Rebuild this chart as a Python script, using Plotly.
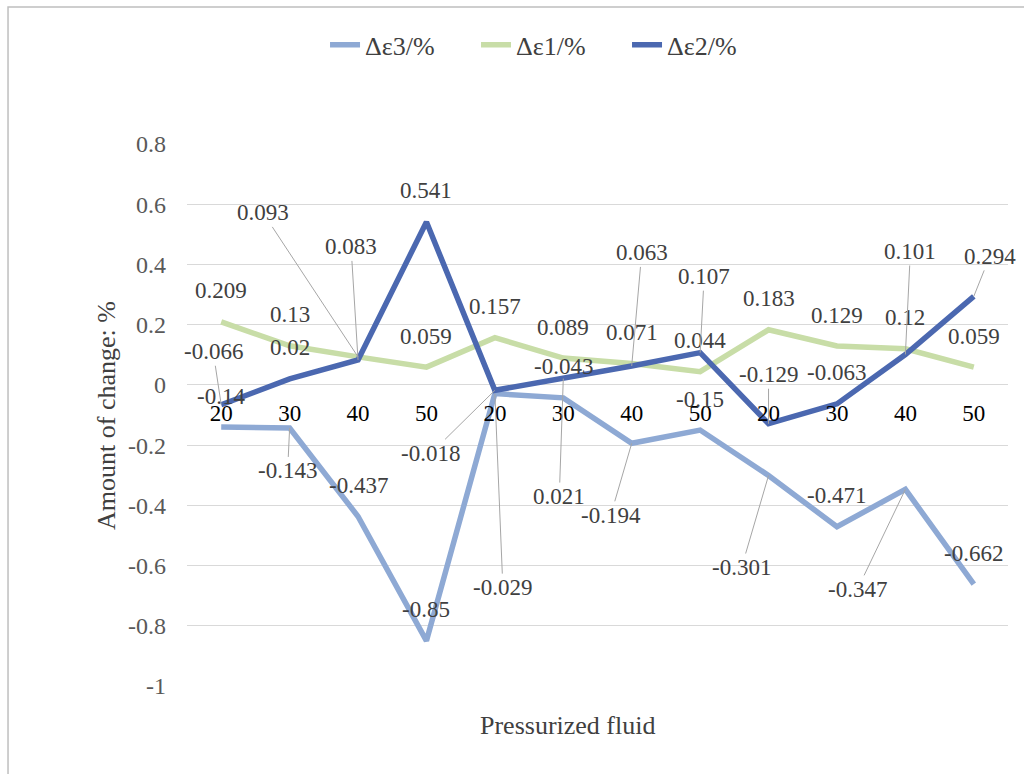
import plotly.graph_objects as go

# Categories along the horizontal axis (three groups of pressures)
categories = ["20", "30", "40", "50", "20", "30", "40", "50", "20", "30", "40", "50"]

# Series values (%)
d_eps3 = [-0.14, -0.143, -0.437, -0.85, -0.029, -0.043, -0.194, -0.15, -0.301, -0.471, -0.347, -0.662]
d_eps1 = [0.209, 0.13, 0.093, 0.059, 0.157, 0.089, 0.071, 0.044, 0.183, 0.129, 0.12, 0.059]
d_eps2 = [-0.066, 0.02, 0.083, 0.541, -0.018, 0.021, 0.063, 0.107, -0.129, -0.063, 0.101, 0.294]

y_ticks = [0.8, 0.6, 0.4, 0.2, 0, -0.2, -0.4, -0.6, -0.8, -1]
y_tick_text = ["0.8", "0.6", "0.4", "0.2", "0", "-0.2", "-0.4", "-0.6", "-0.8", "-1"]

# Label placement: default sits just above the point; the entries below
# are moved labels joined to their point with a leader line (pixel offsets).
DEFAULT_OFFSET = (0, -31)
leader_offsets = {
    "Δε3/%": {1: (-2, 43), 4: (8, 194), 6: (-21, 72), 8: (-27, 92), 10: (-48, 100)},
    "Δε1/%": {2: (-95, -144)},
    "Δε2/%": {0: (-8, -53), 2: (-7, -113), 4: (-64, 63), 5: (-4, 118), 6: (10, -113),
              7: (4, -76), 8: (0, -49), 10: (5, -103), 11: (16, -40)},
}

series = [
    ("Δε3/%", d_eps3, "#8EA9D4"),
    ("Δε1/%", d_eps1, "#C8DDA7"),
    ("Δε2/%", d_eps2, "#4B68B0"),
]

FONT = "Liberation Serif"
LABEL_SIZE = 23
TITLE_SIZE = 26
x_idx = list(range(len(categories)))

fig = go.Figure()
annotations = []
for name, vals, color in series:
    fig.add_trace(go.Scatter(
        x=x_idx, y=vals, mode="lines", name=name,
        line=dict(color=color, width=5.5),
    ))
    for i, v in enumerate(vals):
        txt = f"{v:g}"
        if i in leader_offsets[name]:
            dx, dy = leader_offsets[name][i]
            annotations.append(dict(
                x=i, y=v, xref="x", yref="y", text=txt,
                showarrow=True, arrowhead=0, arrowwidth=1, arrowcolor="#A6A6A6",
                ax=dx, ay=dy, standoff=0, startstandoff=0,
                font=dict(family=FONT, size=LABEL_SIZE, color="#404040"),
            ))
        else:
            dx, dy = DEFAULT_OFFSET
            annotations.append(dict(
                x=i, y=v, xref="x", yref="y", text=txt, showarrow=False,
                xanchor="center", yanchor="middle", xshift=dx, yshift=-dy,
                font=dict(family=FONT, size=LABEL_SIZE, color="#404040"),
            ))

# Axis titles
annotations.append(dict(
    x=-0.0987, y=0.5, xref="paper", yref="paper", text="Amount of change: %",
    showarrow=False, textangle=-90, xanchor="center", yanchor="middle",
    font=dict(family=FONT, size=TITLE_SIZE, color="#404040"),
))
annotations.append(dict(
    x=0.463, y=-0.072, xref="paper", yref="paper", text="Pressurized fluid",
    showarrow=False, xanchor="center", yanchor="middle",
    font=dict(family=FONT, size=TITLE_SIZE, color="#404040"),
))

fig.update_layout(
    width=1024, height=774,
    margin=dict(l=187, r=16, t=144, b=88),
    paper_bgcolor="white", plot_bgcolor="white",
    font=dict(family=FONT, size=LABEL_SIZE, color="#404040"),
    showlegend=True,
    legend=dict(
        orientation="h", x=0.444, y=1.183, xanchor="center", yanchor="middle",
        font=dict(family=FONT, size=TITLE_SIZE, color="#404040"),
        bgcolor="rgba(0,0,0,0)", entrywidth=106,
    ),
    annotations=annotations,
    shapes=[dict(
        type="rect", xref="paper", yref="paper",
        x0=-0.218, x1=1.2, y0=-0.3, y1=1.2528,
        line=dict(color="#BFBFBF", width=1.5), fillcolor="rgba(0,0,0,0)",
        layer="below",
    )],
)

fig.update_xaxes(
    range=[-0.5, len(categories) - 0.5],
    tickmode="array", tickvals=x_idx, ticktext=categories,
    anchor="free", position=1 / 1.8,
    showgrid=False, zeroline=False, showline=False, ticks="",
    tickfont=dict(family=FONT, size=23, color="#000000"),
    ticklabelstandoff=12,
)
fig.update_yaxes(
    range=[-1, 0.8],
    tickmode="array", tickvals=y_ticks, ticktext=y_tick_text,
    showgrid=True, gridcolor="#D9D9D9", gridwidth=1.3,
    zeroline=False, showline=False, ticks="",
    tickfont=dict(family=FONT, size=24, color="#595959"),
    ticklabelstandoff=20,
)

fig.write_html("out.html")
